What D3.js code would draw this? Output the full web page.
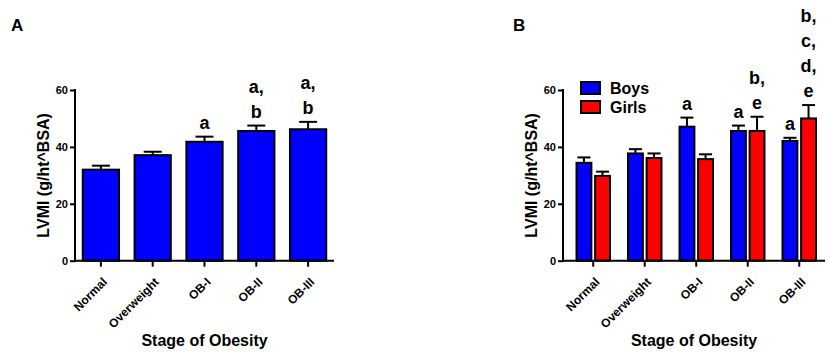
<!DOCTYPE html>
<html>
<head>
<meta charset="utf-8">
<script src="https://cdn.jsdelivr.net/npm/d3@7"></script>
<style>
	body { margin: 0; background: #fff; }
	svg { display: block; font-family: 'Liberation Sans', Arial, sans-serif; font-weight: bold; }
</style>
</head>
<body>
<svg></svg>
<script>
const stages = ['Normal', 'Overweight', 'OB-I', 'OB-II', 'OB-III'];
const yTicks = [0, 20, 40, 60];

// panel A: all children
const meanAll = [32.0, 37.1, 41.8, 45.6, 46.2];
const semAll = [1.4, 1.2, 1.8, 1.9, 2.6];
const sigAll = [[], [], ['a'], ['a,', 'b'], ['a,', 'b']];

// panel B: by sex
const sexes = ['Boys', 'Girls'];
const meanBoys = [34.4, 37.7, 47.1, 45.6, 42.1];
const semBoys = [1.9, 1.5, 3.2, 1.9, 1.1];
const sigBoys = [[], [], ['a'], ['a'], ['a']];
const meanGirls = [29.8, 36.1, 35.7, 45.6, 50.0];
const semGirls = [1.5, 1.6, 1.7, 5.0, 4.7];
const sigGirls = [[], [], [], ['b,', 'e'], ['b,', 'c,', 'd,', 'e']];

const colors = { Boys: '#0000ff', Girls: '#ff0000', All: '#0000ff' };

const width = 829;
const height = 352;
const yTop = 90;
const yBottom = 260.7;
const lineGap = 25;

const svg = d3.select('svg')
	.attr('width', width)
	.attr('height', height);

const yScale = d3.scaleLinear()
	.domain([0, 60])
	.range([yBottom, yTop]);

function panel(selection, props) {
	const x0 = props.axisX;
	const xScale = d3.scaleBand()
		.domain(stages)
		.range(props.range)
		.paddingInner(props.padding)
		.paddingOuter(props.padding / 2);

	const inner = d3.scaleBand()
		.domain(props.series.map(s => s.name))
		.range([0, xScale.bandwidth()])
		.paddingInner(props.series.length > 1 ? 0.2 : 0);

	const g = selection.append('g');

	// bars, error bars, letters
	props.series.forEach(s => {
		const rows = stages.map((st, i) => ({
			stage: st, mean: s.mean[i], sem: s.sem[i], sig: s.sig[i]
		}));
		const bx = d => xScale(d.stage) + inner(s.name);
		const cx = d => bx(d) + inner.bandwidth() / 2;

		g.selectAll(null).data(rows).enter()
			.append('line')
				.attr('x1', cx).attr('x2', cx)
				.attr('y1', d => yScale(d.mean))
				.attr('y2', d => yScale(d.mean + d.sem))
				.attr('stroke', '#000').attr('stroke-width', 2);
		g.selectAll(null).data(rows).enter()
			.append('line')
				.attr('x1', d => cx(d) - props.cap / 2)
				.attr('x2', d => cx(d) + props.cap / 2)
				.attr('y1', d => yScale(d.mean + d.sem))
				.attr('y2', d => yScale(d.mean + d.sem))
				.attr('stroke', '#000').attr('stroke-width', 2);

		g.selectAll(null).data(rows).enter()
			.append('rect')
				.attr('x', bx)
				.attr('y', d => yScale(d.mean))
				.attr('width', inner.bandwidth())
				.attr('height', d => yBottom - yScale(d.mean))
				.attr('fill', colors[s.name])
				.attr('stroke', '#000')
				.attr('stroke-width', 2);

		rows.forEach(d => {
			const n = d.sig.length;
			g.selectAll(null).data(d.sig).enter()
				.append('text')
					.attr('x', cx(d))
					.attr('y', (t, j) => yScale(d.mean + d.sem) - 8 - (n - 1 - j) * lineGap)
					.attr('text-anchor', 'middle')
					.attr('font-size', 18)
					.text(t => t);
		});
	});

	// y axis
	const yAxisG = g.append('g')
		.attr('transform', `translate(${x0},0)`)
		.call(d3.axisLeft(yScale).tickValues(yTicks).tickSize(5).tickPadding(2));
	yAxisG.select('.domain').remove();
	yAxisG.selectAll('line').attr('stroke-width', 2);
	yAxisG.append('line')
		.attr('y1', yTop - 1).attr('y2', yBottom + 1)
		.attr('stroke', '#000').attr('stroke-width', 2);
	yAxisG.selectAll('.tick text')
		.attr('font-size', 11)
		.attr('font-family', null)
		.attr('fill', '#000');

	// x axis
	const xAxisG = g.append('g')
		.attr('transform', `translate(0,${yBottom})`)
		.call(d3.axisBottom(xScale).tickSize(6).tickSizeOuter(0));
	xAxisG.select('.domain').remove();
	xAxisG.selectAll('line').attr('stroke-width', 2);
	xAxisG.append('line')
		.attr('x1', x0 - 1).attr('x2', props.range[1])
		.attr('stroke', '#000').attr('stroke-width', 2);
	xAxisG.attr('font-size', null).attr('font-family', null);
	xAxisG.selectAll('.tick text')
		.attr('font-size', 12)
		.attr('fill', '#000')
		.attr('text-anchor', 'end')
		.attr('dy', null)
		.attr('y', null)
		.attr('transform', 'translate(7,22) rotate(-45)');
	yAxisG.attr('font-size', null).attr('font-family', null);

	// titles
	g.append('text')
		.attr('x', (x0 + props.range[1]) / 2)
		.attr('y', 346)
		.attr('text-anchor', 'middle')
		.attr('font-size', 16)
		.text('Stage of Obesity');
	g.append('text')
		.attr('transform', `translate(${x0 - 26},${(yTop + yBottom) / 2}) rotate(-90)`)
		.attr('text-anchor', 'middle')
		.attr('font-size', 16)
		.text('LVMI (g/ht^BSA)');
	g.append('text')
		.attr('x', props.labelX)
		.attr('y', 31)
		.attr('font-size', 17)
		.text(props.label);

	return g;
}

svg.call(panel, {
	label: 'A', labelX: 11,
	axisX: 75, range: [75, 334], padding: 0.3, cap: 18,
	series: [{ name: 'All', mean: meanAll, sem: semAll, sig: sigAll }]
});

const gB = panel(svg, {
	label: 'B', labelX: 513,
	axisX: 563, range: [567.5, 825], padding: 0.35, cap: 13,
	series: [
		{ name: 'Boys', mean: meanBoys, sem: semBoys, sig: sigBoys },
		{ name: 'Girls', mean: meanGirls, sem: semGirls, sig: sigGirls }
	]
});

// legend
const legend = gB.selectAll('g.legend').data(sexes).enter()
	.append('g')
		.attr('class', 'legend')
		.attr('transform', (d, i) => `translate(581,${82 + i * 19})`);
legend.append('rect')
	.attr('width', 19).attr('height', 12)
	.attr('fill', d => colors[d])
	.attr('stroke', '#000').attr('stroke-width', 2);
legend.append('text')
	.attr('x', 29).attr('y', 12)
	.attr('font-size', 16)
	.text(d => d);
</script>
</body>
</html>
